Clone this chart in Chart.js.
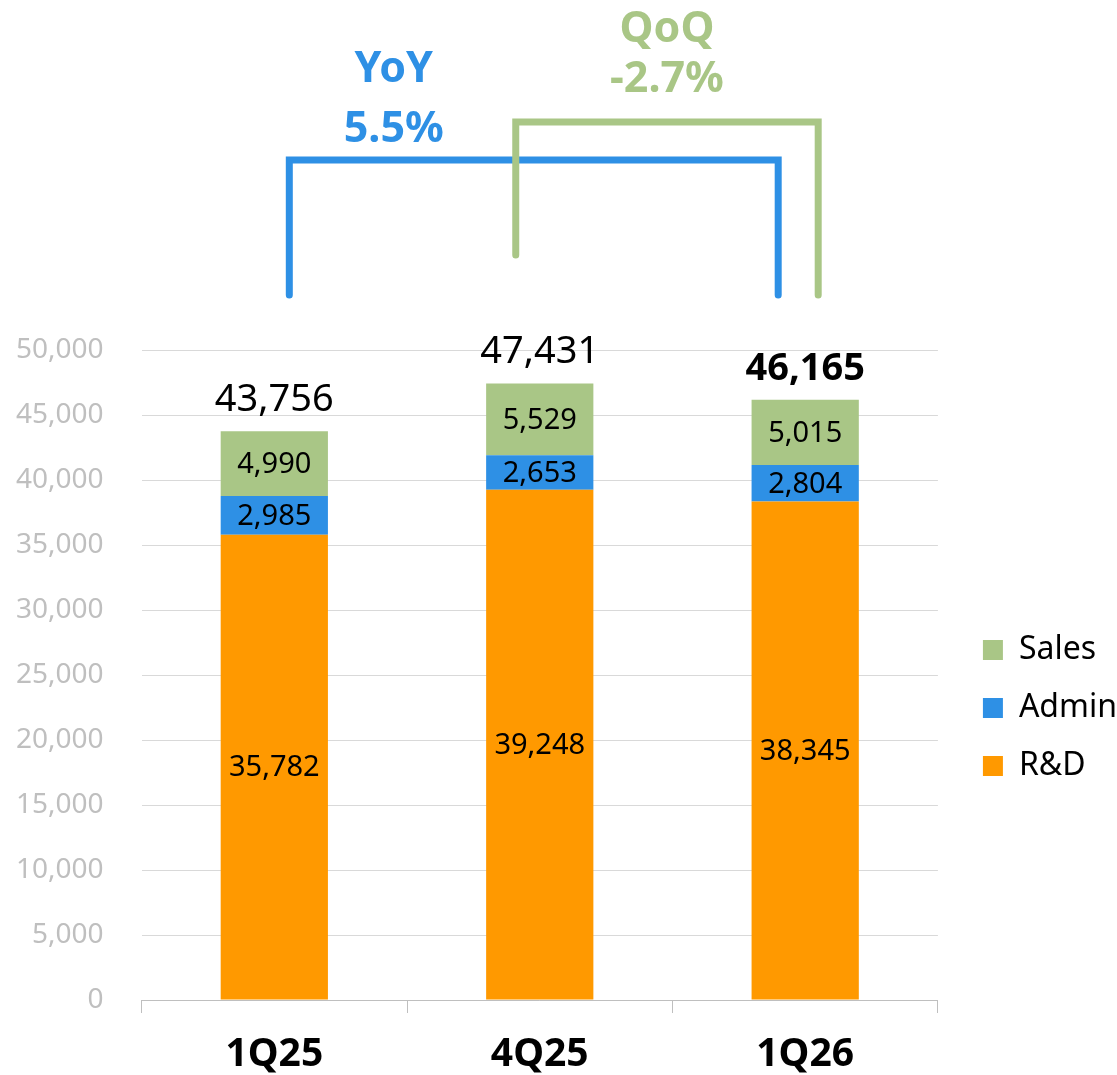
<!DOCTYPE html>
<html>
<head>
<meta charset="utf-8">
<script src="https://cdn.jsdelivr.net/npm/chart.js@4/dist/chart.umd.min.js"></script>
<style>
  body { margin: 0; background: #fff; overflow: hidden; }
  #wrap { width: 1117px; height: 1075px; position: relative; }
</style>
</head>
<body>
<div id="wrap"><canvas id="opexChart"></canvas></div>
<script>
// Chart data
const quarters = ['1Q25', '4Q25', '1Q26'];
const rdValues = [35782, 39248, 38345];
const adminValues = [2985, 2653, 2804];
const salesValues = [4990, 5529, 5015];
const totals = [43756, 47431, 46165];
const yoyText = ['YoY', '5.5%'];
const qoqText = ['QoQ', '-2.7%'];

const GREEN = '#A9C686';
const BLUE = '#2E90E5';
const ORANGE = '#FF9900';
const FONT = "'Noto Sans', sans-serif";

const fmt = v => v.toLocaleString('en-US');

// Draw value labels inside the segments and totals on top
const labelPlugin = {
    id: 'valueLabels',
    afterLayout(chart) {
        // nudge the legend up a bit so it sits like the original
        chart.legend.top -= 15;
        chart.legend.bottom -= 15;
    },
    afterDatasetsDraw(chart) {
        const ctx = chart.ctx;
        ctx.save();
        ctx.textAlign = 'center';
        ctx.textBaseline = 'middle';
        ctx.fillStyle = '#000';
        chart.data.datasets.forEach((ds, di) => {
            const meta = chart.getDatasetMeta(di);
            meta.data.forEach((bar, i) => {
                ctx.font = '29px ' + FONT;
                ctx.fillText(fmt(ds.data[i]), bar.x, (bar.y + bar.base) / 2 + 1);
            });
        });
        const yScale = chart.scales.y;
        const xScale = chart.scales.x;
        totals.forEach((t, i) => {
            ctx.font = (i === 2 ? 'bold ' : '') + '38px ' + FONT;
            ctx.fillText(fmt(t), xScale.getPixelForValue(i), yScale.getPixelForValue(t) - 31);
        });
        ctx.restore();
    }
};

// YoY / QoQ brackets above the plot
const bracketPlugin = {
    id: 'brackets',
    afterDraw(chart) {
        const ctx = chart.ctx;
        const x = chart.scales.x;
        const top = chart.chartArea.top;
        const step = x.getPixelForValue(1) - x.getPixelForValue(0);
        ctx.save();
        ctx.lineWidth = 7;
        ctx.lineJoin = 'miter';
        ctx.lineCap = 'round';

        // YoY: 1Q25 -> 1Q26
        const yl = x.getPixelForValue(0) + 15;
        const yr = x.getPixelForValue(2) - 27;
        ctx.strokeStyle = BLUE;
        ctx.beginPath();
        ctx.moveTo(yl, top - 55);
        ctx.lineTo(yl, top - 190);
        ctx.lineTo(yr, top - 190);
        ctx.lineTo(yr, top - 55);
        ctx.stroke();

        // QoQ: 4Q25 -> 1Q26
        const ql = x.getPixelForValue(1) - 24;
        const qr = x.getPixelForValue(2) + 13;
        ctx.strokeStyle = GREEN;
        ctx.beginPath();
        ctx.moveTo(ql, top - 95);
        ctx.lineTo(ql, top - 228);
        ctx.lineTo(qr, top - 228);
        ctx.lineTo(qr, top - 55);
        ctx.stroke();

        ctx.textAlign = 'center';
        ctx.textBaseline = 'middle';
        ctx.font = 'bold 43px ' + FONT;
        ctx.fillStyle = BLUE;
        const yx = x.getPixelForValue(0) + step * 0.45;
        ctx.fillText(yoyText[0], yx, top - 280);
        ctx.fillText(yoyText[1], yx, top - 220);
        ctx.fillStyle = GREEN;
        const qx = (ql + qr) / 2;
        ctx.fillText(qoqText[0], qx, top - 320);
        ctx.fillText(qoqText[1], qx, top - 270);
        ctx.restore();
    }
};

const ctx = document.getElementById('opexChart').getContext('2d');
const opexChart = new Chart(ctx, {
    type: 'bar',
    data: {
        labels: quarters,
        datasets: [
            { label: 'R&D', data: rdValues, backgroundColor: ORANGE },
            { label: 'Admin', data: adminValues, backgroundColor: BLUE },
            { label: 'Sales', data: salesValues, backgroundColor: GREEN }
        ]
    },
    options: {
        responsive: true,
        maintainAspectRatio: false,
        animation: false,
        datasets: {
            bar: { barPercentage: 0.404, categoryPercentage: 1 }
        },
        layout: {
            padding: { top: 350, left: -22, right: -10, bottom: -21 }
        },
        plugins: {
            tooltip: { enabled: false },
            legend: {
                position: 'right',
                reverse: true,
                labels: {
                    boxWidth: 20,
                    boxHeight: 20,
                    padding: 26,
                    color: '#000',
                    font: { family: FONT, size: 32 }
                }
            }
        },
        scales: {
            x: {
                stacked: true,
                border: { display: true, color: '#bfbfbf', width: 1 },
                grid: { drawOnChartArea: false, tickLength: 13, color: '#bfbfbf' },
                ticks: {
                    color: '#000',
                    padding: 22,
                    font: { family: FONT, size: 39, weight: 'bold', lineHeight: 1 }
                }
            },
            y: {
                stacked: true,
                min: 0,
                max: 50000,
                border: { display: false },
                grid: { color: '#d9d9d9', drawTicks: false },
                ticks: {
                    stepSize: 5000,
                    padding: 38,
                    color: '#bfbfbf',
                    font: { family: FONT, size: 28 },
                    callback: v => fmt(v)
                }
            },
            // empty spacer axis between the plot and the legend
            gap: {
                type: 'linear',
                position: 'right',
                display: true,
                border: { display: false },
                grid: { display: false },
                ticks: { display: false },
                afterFit: scale => { scale.width = 19; }
            }
        }
    },
    plugins: [labelPlugin, bracketPlugin]
});
</script>
</body>
</html>
